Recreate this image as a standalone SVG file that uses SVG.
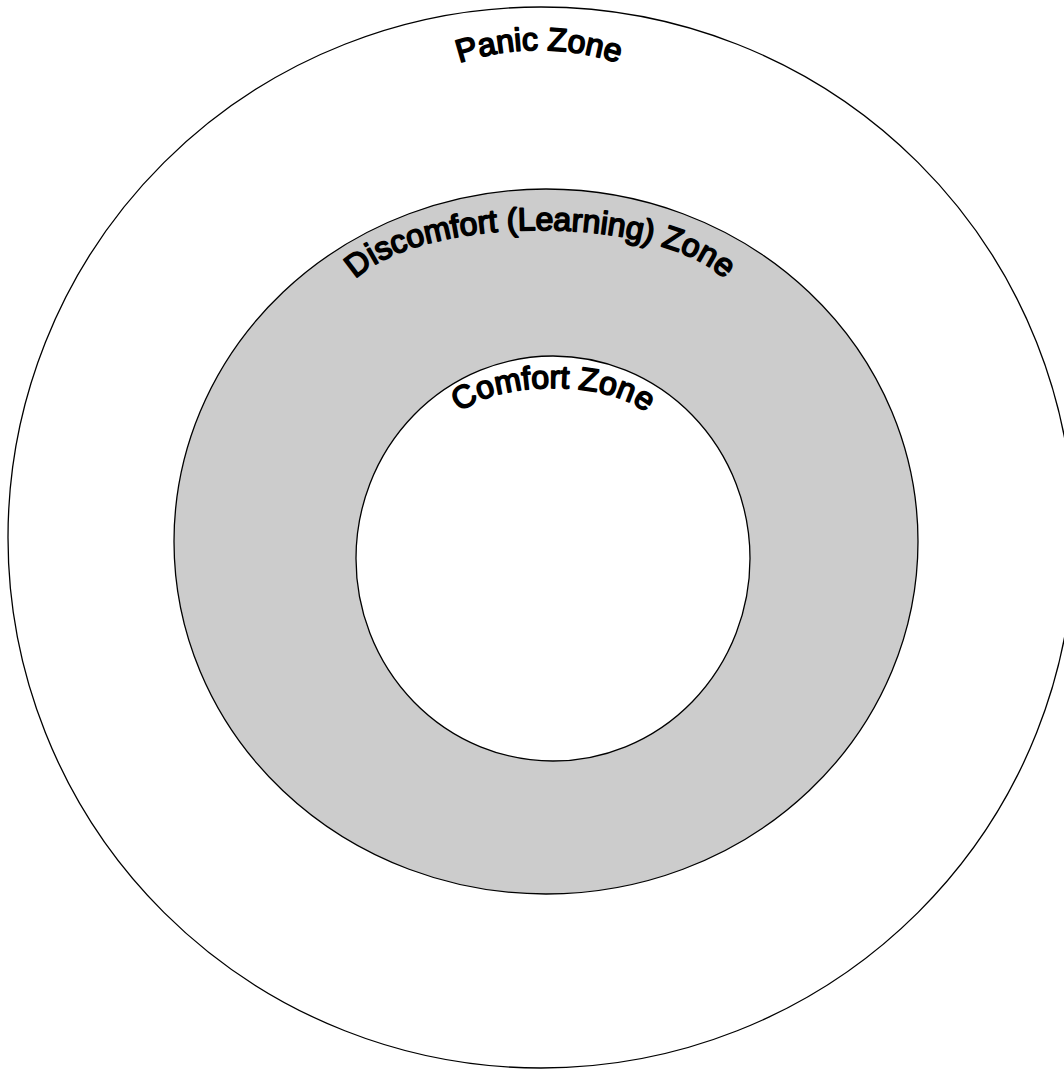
<svg xmlns="http://www.w3.org/2000/svg" xmlns:xlink="http://www.w3.org/1999/xlink" width="1064" height="1069" viewBox="0 0 1064 1069">
  <style>
    .zone { stroke: #000000; stroke-width: 1.3; }
    .label { font-family: "Liberation Sans", Arial, sans-serif; font-size: 32px; font-weight: normal; fill: #000000; stroke: #000000; stroke-width: 1.7; stroke-linejoin: round; text-anchor: middle; }
  </style>
  <defs>
    <path id="panicArc" d="M 289,300 A 250 250 0 0 1 789,300"/>
    <path id="discomfortArc" d="M 343,306 A 197 76 0 0 1 737,306"/>
    <path id="comfortArc" d="M 453,428 A 100 40 0 0 1 653,428"/>
  </defs>
  <rect x="0" y="0" width="1064" height="1069" fill="#ffffff"/>
  <g id="panic-zone">
    <ellipse class="zone" cx="541" cy="537.5" rx="533" ry="530.5" fill="#ffffff"/>
    <text class="label"><textPath xlink:href="#panicArc" href="#panicArc" startOffset="50%">Panic Zone</textPath></text>
  </g>
  <g id="discomfort-zone">
    <ellipse class="zone" cx="546" cy="541.5" rx="372" ry="352.5" fill="#cccccc"/>
    <text class="label"><textPath xlink:href="#discomfortArc" href="#discomfortArc" startOffset="50%">Discomfort (Learning) Zone</textPath></text>
  </g>
  <g id="comfort-zone">
    <ellipse class="zone" cx="553" cy="558.5" rx="197" ry="202.5" fill="#ffffff"/>
    <text class="label"><textPath xlink:href="#comfortArc" href="#comfortArc" startOffset="50%">Comfort Zone</textPath></text>
  </g>
  <g id="connectors"/>
</svg>
